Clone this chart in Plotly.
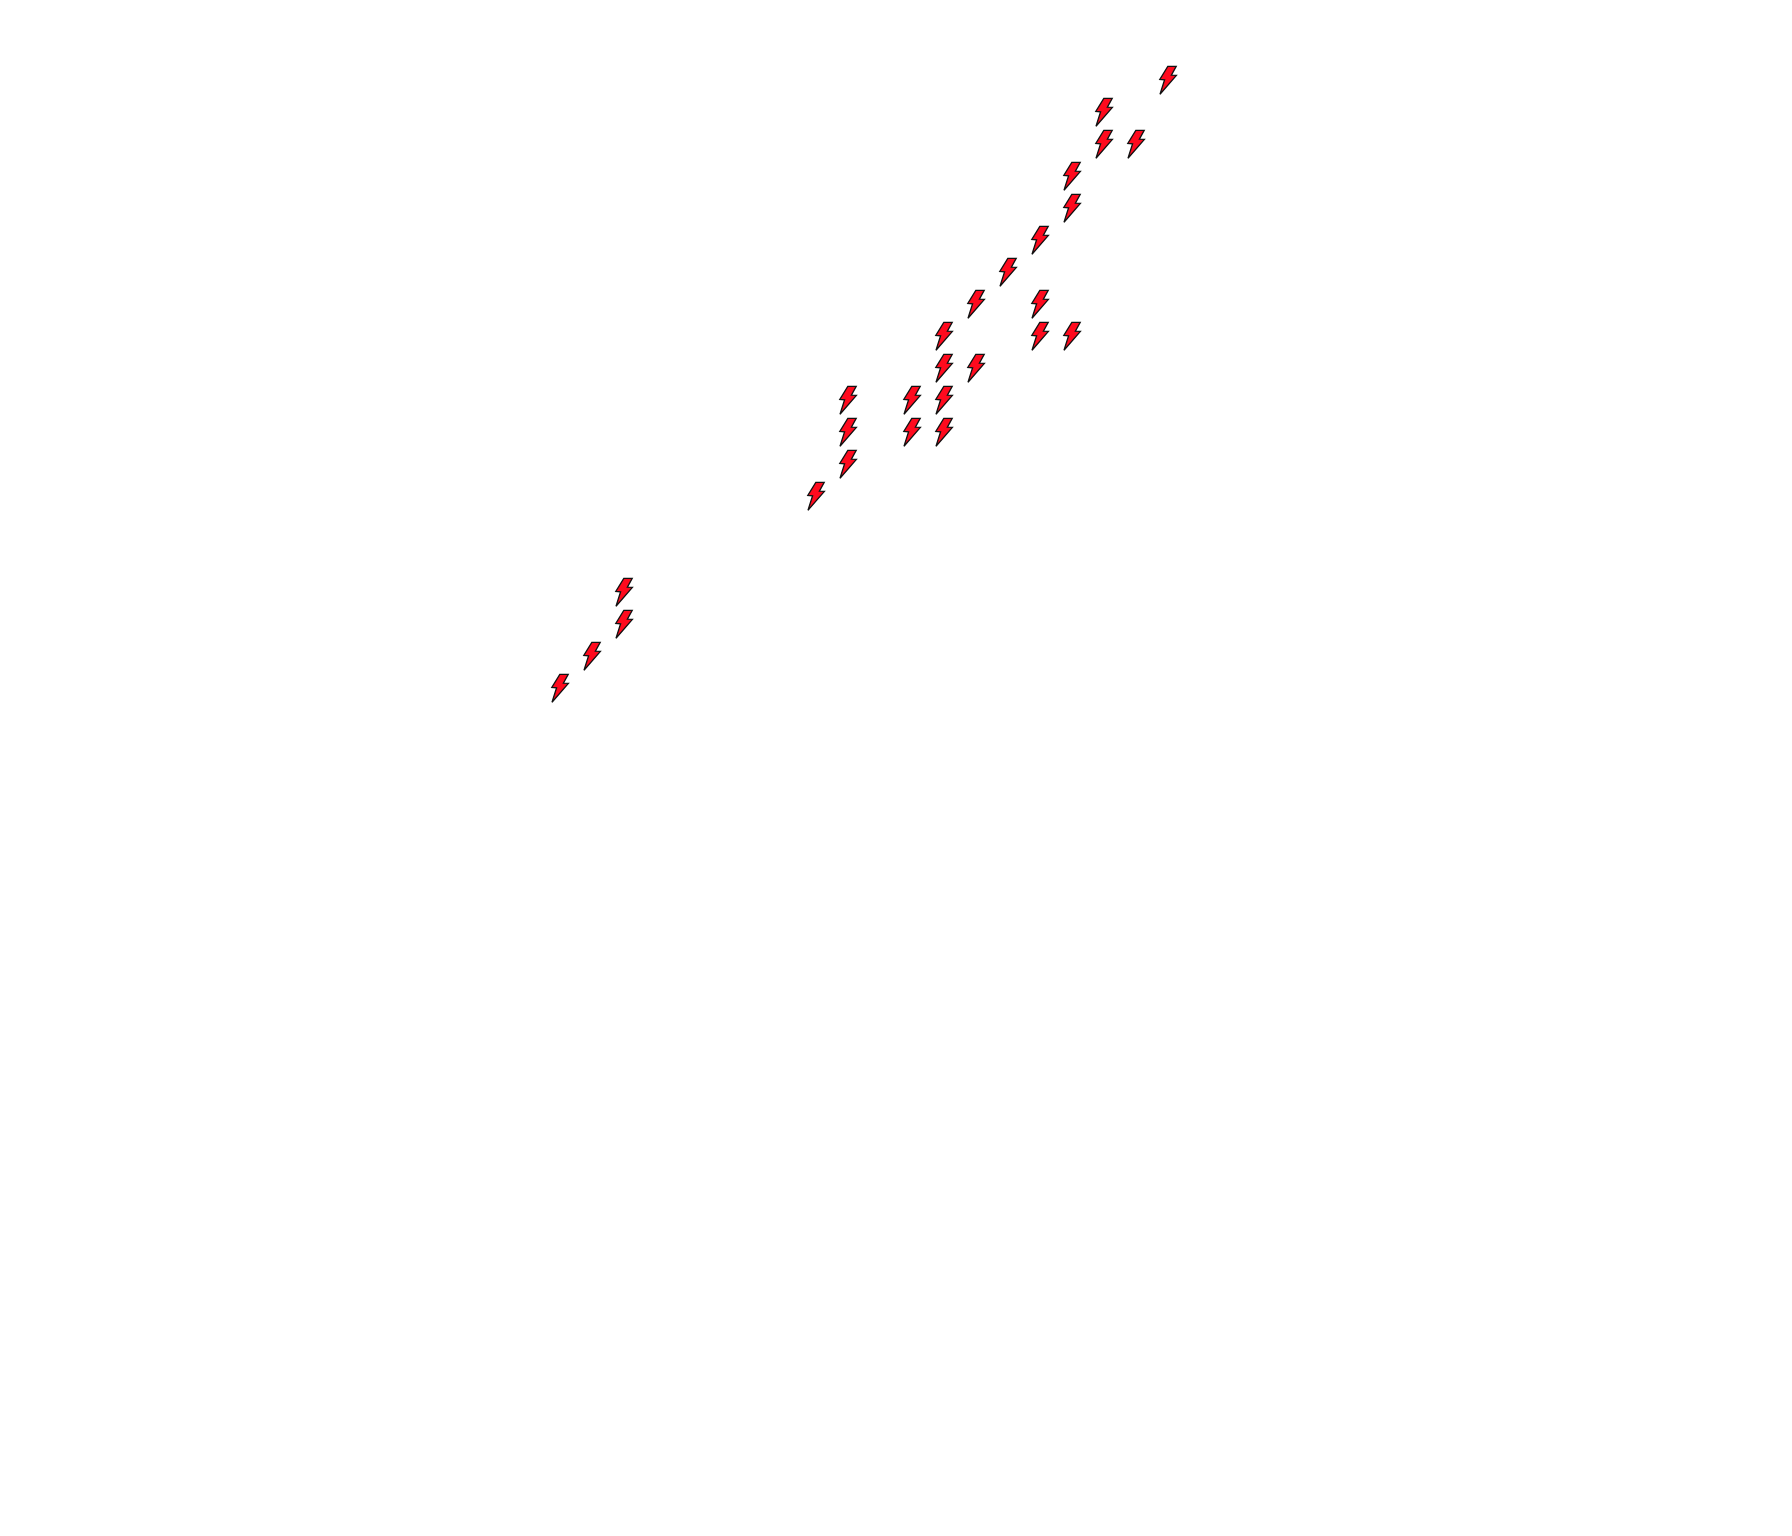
import plotly.graph_objects as go

# Lattice positions
x_values = [19, 17, 17, 18, 16, 16, 15, 14, 13, 15, 12, 15, 16, 12, 13, 9, 11, 12, 9, 11, 12, 9, 8, 2, 2, 1, 0]
y_values = [19, 18, 17, 17, 16, 15, 14, 13, 12, 12, 11, 11, 11, 10, 10, 9, 9, 9, 8, 8, 8, 7, 6, 3, 2, 1, 0]

FILL = "#ff0a1e"
EDGE = "#111111"
# Bolt outline in pixels relative to its anchor (y up)
BOLT = "M -0.2 13.6 L 8.2 13.6 L 3.4 4.8 L 8.4 4.6 L -8 -14.2 L -3.4 0.2 L -8.2 0.6 Z"

W, H = 1776, 1520
x0 = -17.25
y1 = 21.25
UNIT = 32

fig = go.Figure()
fig.add_trace(go.Scatter(x=x_values, y=y_values, mode="markers",
                         marker=dict(size=18, opacity=0), showlegend=False))
for xv, yv in zip(x_values, y_values):
    fig.add_shape(type="path", xref="x", yref="y", xsizemode="pixel", ysizemode="pixel",
                  xanchor=xv, yanchor=yv, path=BOLT,
                  fillcolor=FILL, line=dict(color=EDGE, width=1.3))

fig.update_layout(
    width=W, height=H, margin=dict(l=0, r=0, t=0, b=0),
    paper_bgcolor="white", plot_bgcolor="white", showlegend=False,
    xaxis=dict(visible=False, range=[x0, x0 + W / UNIT], fixedrange=True),
    yaxis=dict(visible=False, range=[y1 - H / UNIT, y1], fixedrange=True),
)
fig.write_html("out.html")
